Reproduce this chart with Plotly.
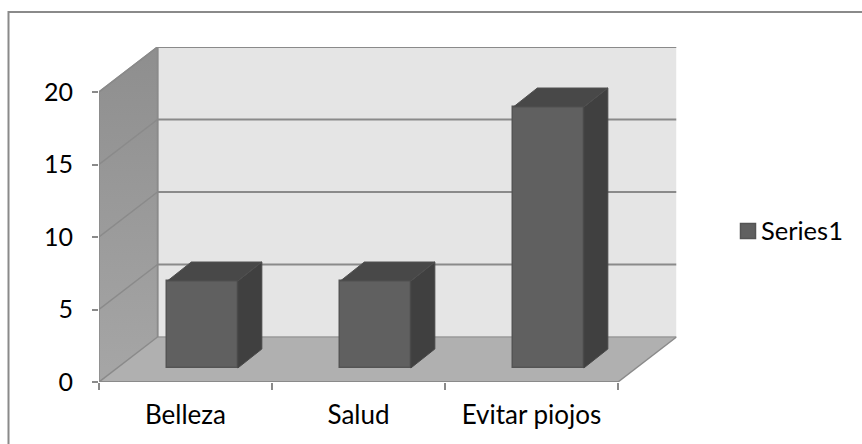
import plotly.graph_objects as go

W, H = 862, 444

categories = ["Belleza", "Salud", "Evitar piojos"]
series_name = "Series1"
series_values = [6, 6, 18]
y_ticks = [0, 5, 10, 15, 20]
x_edges = [0, 1, 2, 3]

# Pixel frame of the front plane and of the oblique projection
FRONT_L, FRONT_R, FRONT_B, FRONT_T = 99, 618, 382, 92
WALL_DX_PX, WALL_DY_PX = 58.5, 45
PX_PER_CAT = (FRONT_R - FRONT_L) / len(categories)
PX_PER_UNIT = (FRONT_B - FRONT_T) / y_ticks[-1]

WALL_DX = WALL_DX_PX / PX_PER_CAT
WALL_DY = WALL_DY_PX / PX_PER_UNIT
BAR_INSET_X = 0.395
BAR_W = 70.5 / PX_PER_CAT
BAR_FRONT_DY = 14 / PX_PER_UNIT
BAR_DX = 24 / PX_PER_CAT
BAR_DY = 19 / PX_PER_UNIT

X_MAX = len(categories) + WALL_DX
Y_MAX = y_ticks[-1] + WALL_DY

EDGE = "#8a8a8a"
FONT_FAMILY = "Lato"
BAR_FILL = "#606060"
BAR_EDGE = "#545454"

shapes = []


def poly(xs, ys):
    return "M" + " L".join(f"{x},{y}" for x, y in zip(xs, ys)) + " Z"


def add_shape_path(xs, ys, fill):
    shapes.append(dict(type="path", xref="x", yref="y", layer="below",
                       path=poly(xs, ys), fillcolor=fill,
                       line=dict(width=0)))


def add_line(x0, y0, x1, y1, width=2, color=EDGE):
    shapes.append(dict(type="line", xref="x", yref="y", layer="below",
                       x0=x0, y0=y0, x1=x1, y1=y1,
                       line=dict(color=color, width=width)))


n = len(categories)
top = y_ticks[-1]

# Outer chart frame; its right and bottom sides fall past the page edge
shapes.append(dict(type="rect", xref="paper", yref="paper", layer="below",
                   x0=8.5 / W, x1=1.02, y0=-0.02, y1=1 - 12 / H,
                   line=dict(color="#8a8a8a", width=2)))

# Legend swatch, sitting closer to its label than the built-in key allows
shapes.append(dict(type="rect", xref="paper", yref="paper", layer="above",
                   x0=740.5 / W, x1=755.5 / W, y0=1 - 238.5 / H, y1=1 - 223.5 / H,
                   fillcolor=BAR_FILL, line=dict(color=BAR_EDGE, width=1.5)))

# Back wall and floor
add_shape_path([WALL_DX, X_MAX, X_MAX, WALL_DX],
               [WALL_DY, WALL_DY, Y_MAX, Y_MAX], "#e5e5e5")
add_shape_path([0, n, X_MAX, WALL_DX],
               [0, 0, WALL_DY, WALL_DY], "#b0b0b0")

# Gridlines across the back wall
for t in y_ticks[1:]:
    add_line(WALL_DX, t + WALL_DY, X_MAX, t + WALL_DY)
add_line(WALL_DX, WALL_DY, X_MAX, WALL_DY, width=1.5, color="#9a9a9a")
add_line(WALL_DX, WALL_DY, WALL_DX, Y_MAX)
add_line(n, 0, X_MAX, WALL_DY, width=1.5)

fig = go.Figure()

# Front faces of the columns
bar_left = [i + BAR_INSET_X for i in range(n)]
fig.add_trace(go.Bar(
    x=[l + BAR_W / 2 for l in bar_left], y=series_values,
    base=BAR_FRONT_DY, width=BAR_W, showlegend=False, hoverinfo="skip",
    marker=dict(color=BAR_FILL, line=dict(color=BAR_EDGE, width=1.5)),
))

# Side and top faces of the columns
for l, v in zip(bar_left, series_values):
    r = l + BAR_W
    b = BAR_FRONT_DY
    t = BAR_FRONT_DY + v
    fig.add_trace(go.Scatter(
        x=[r, r + BAR_DX, r + BAR_DX, r, r], y=[b, b + BAR_DY, t + BAR_DY, t, b],
        mode="lines", fill="toself", fillcolor="#404040",
        line=dict(color="#484848", width=1), showlegend=False, hoverinfo="skip",
    ))
    fig.add_trace(go.Scatter(
        x=[l, r, r + BAR_DX, l + BAR_DX, l], y=[t, t, t + BAR_DY, t + BAR_DY, t],
        mode="lines", fill="toself", fillcolor="#484848",
        line=dict(color="#505050", width=1), showlegend=False, hoverinfo="skip",
    ))

# Shaded side wall with its gridlines
fig.add_trace(go.Scatter(
    x=[0, WALL_DX, WALL_DX, 0, 0], y=[0, WALL_DY, Y_MAX, top, 0],
    mode="lines", fill="toself",
    fillgradient=dict(type="vertical",
                      colorscale=[[0, "#a6a6a6"], [1, "#8e8e8e"]]),
    line=dict(color=EDGE, width=1.5), showlegend=False, hoverinfo="skip",
))
for t in y_ticks[1:]:
    fig.add_trace(go.Scatter(
        x=[0, WALL_DX], y=[t, t + WALL_DY], mode="lines",
        line=dict(color=EDGE, width=1.5), showlegend=False, hoverinfo="skip",
    ))

# Category axis baseline
fig.add_trace(go.Scatter(
    x=[0, n], y=[0, 0], mode="lines", line=dict(color=EDGE, width=2),
    showlegend=False, hoverinfo="skip",
))

# Legend label; its key is the swatch shape above
fig.add_trace(go.Scatter(
    x=[None], y=[None], mode="markers", name=series_name,
    marker=dict(symbol="square", size=1, color="rgba(0,0,0,0)"),
))

fig.update_layout(
    template="none",
    width=W, height=H,
    margin=dict(l=0, r=0, t=0, b=0, autoexpand=False),
    paper_bgcolor="white", plot_bgcolor="rgba(0,0,0,0)",
    font=dict(family=FONT_FAMILY, size=25, color="#000000"), bargap=0,
    shapes=shapes,
    xaxis=dict(
        domain=[FRONT_L / W, (FRONT_R + WALL_DX_PX) / W],
        range=[0, X_MAX], showgrid=False, zeroline=False, showline=False,
        automargin=False,
        tickmode="array",
        tickvals=[i + 0.5 for i in range(n)], ticktext=categories,
        ticks="outside", ticklen=0, ticklabelstandoff=10,
        tickfont=dict(family=FONT_FAMILY, size=26, color="#000000"),
        minor=dict(tickmode="array", tickvals=x_edges, ticks="outside",
                   ticklen=7, tickwidth=2, tickcolor=EDGE),
        fixedrange=True,
    ),
    yaxis=dict(
        domain=[1 - FRONT_B / H, 1 - (FRONT_T - WALL_DY_PX) / H],
        range=[0, Y_MAX], showgrid=False, zeroline=False, showline=False,
        automargin=False,
        tickmode="array", tickvals=y_ticks,
        ticks="outside", ticklen=6, tickwidth=2, tickcolor=EDGE,
        ticklabelstandoff=14, fixedrange=True,
    ),
    legend=dict(x=721 / W, xref="container", y=1 - 230 / H, yref="container",
                xanchor="left", yanchor="middle", bgcolor="rgba(0,0,0,0)",
                itemwidth=30,
                font=dict(family=FONT_FAMILY, size=25.5, color="#000000")),
)

fig.write_html("out.html")
